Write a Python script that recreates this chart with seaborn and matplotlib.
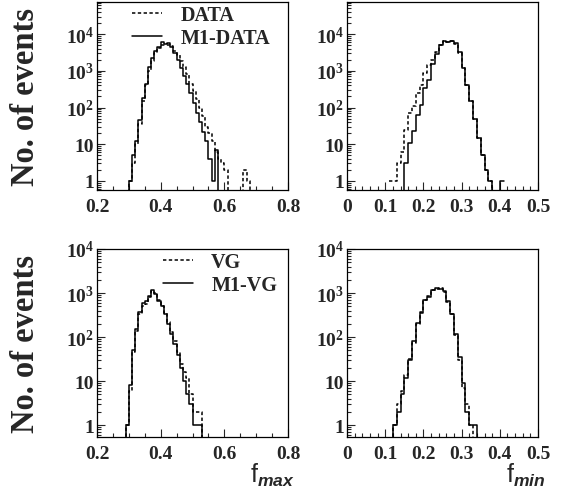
import numpy as np
import pandas as pd
import seaborn as sns
import matplotlib.pyplot as plt
from matplotlib.ticker import MultipleLocator, LogLocator, FuncFormatter, NullFormatter

# histogram bin width (same for every panel)
bin_width = 0.01

# top left: f_max, DATA vs M1-DATA (bins start at 0.29)
fmax_data_lo = 0.29
fmax_data = [0, 1, 3, 10, 35, 150, 400, 1000, 1900, 3000,
             4200, 5000, 5200, 5000, 4800, 3500, 2700, 1800, 1250, 800,
             450, 280, 170, 100, 60, 30, 20, 12, 6, 4,
             3, 2, 0, 0, 0, 0, 0, 2, 1, 0]
fmax_m1data = [0, 1, 5, 12, 45, 180, 450, 1300, 2200, 3500,
               4500, 6000, 5500, 5800, 4500, 3000, 2000, 1200, 700, 450,
               250, 130, 70, 40, 22, 12, 4, 1, 7, 0,
               0, 0, 0, 0, 0, 0, 0, 0, 0, 0]

# top right: f_min, DATA vs M1-DATA (bins start at 0.11)
fmin_data_lo = 0.11
fmin_data = [1, 1, 3, 6, 25, 70, 110, 250, 400, 850,
             1400, 2000, 3200, 5000, 6500, 6000, 6400, 5500, 3000, 1200,
             400, 150, 50, 15, 5, 2, 1, 0, 0, 0]
fmin_m1data = [0, 0, 0, 0, 3, 11, 23, 63, 120, 350,
               550, 1500, 2800, 5000, 6500, 6000, 6400, 5800, 3200, 1200,
               400, 150, 50, 15, 5, 2, 1, 0, 0, 1]

# bottom left: f_max, VG vs M1-VG (bins start at 0.28)
fmax_vg_lo = 0.28
fmax_vg = [0, 1, 6, 45, 140, 330, 500, 550, 800, 1100,
           1000, 700, 520, 350, 220, 130, 80, 45, 25, 16,
           12, 5, 2, 2, 2, 0]
fmax_m1vg = [0, 1, 8, 50, 150, 370, 600, 660, 850, 1200,
             950, 660, 500, 330, 200, 120, 70, 40, 20, 10,
             5, 3, 1, 1, 1, 0]

# bottom right: f_min, VG vs M1-VG (bins start at 0.11)
fmin_vg_lo = 0.11
fmin_vg = [0, 1, 3, 6, 14, 32, 75, 200, 380, 680,
           850, 1150, 1250, 1300, 1050, 620, 340, 110, 30, 7,
           3, 1, 0, 0]
fmin_m1vg = [0, 1, 2, 5, 12, 30, 80, 210, 350, 700,
             800, 1200, 1300, 1250, 1100, 650, 330, 120, 35, 9,
             2, 1, 1, 0]

panels = [
    # (lo, dashed, solid, labels, xlim, major, minor, ylim, xlabel)
    (fmax_data_lo, fmax_data, fmax_m1data, ("DATA", "M1-DATA"), (0.2, 0.8), 0.2, 0.05, (0.57, 7.5e4), None),
    (fmin_data_lo, fmin_data, fmin_m1data, None, (0, 0.5), 0.1, 0.02, (0.57, 7.5e4), None),
    (fmax_vg_lo, fmax_vg, fmax_m1vg, ("VG", "M1-VG"), (0.2, 0.8), 0.2, 0.05, (0.54, 1e4), "max"),
    (fmin_vg_lo, fmin_vg, fmin_m1vg, None, (0, 0.5), 0.1, 0.02, (0.54, 1e4), "min"),
]

sns.set_style("ticks")
plt.rcParams["font.family"] = ["Liberation Serif", "DejaVu Serif"]
plt.rcParams["font.weight"] = "bold"
plt.rcParams["mathtext.fontset"] = "custom"
plt.rcParams["mathtext.rm"] = "Liberation Serif:regular"
plt.rcParams["mathtext.bf"] = "Liberation Serif:bold"
plt.rcParams["mathtext.sf"] = "Liberation Sans:regular"
plt.rcParams["mathtext.it"] = "Liberation Sans:italic:bold"


def ylab(v, pos):
    e = int(round(np.log10(v)))
    if e == 0:
        return "1"
    if e == 1:
        return "10"
    return r"$\mathbf{10^{%d}}$" % e


fig, axes = plt.subplots(2, 2, figsize=(5.64, 4.89), dpi=100)
fig.subplots_adjust(left=0.172, right=0.954, top=0.994, bottom=0.1043,
                    wspace=0.309, hspace=0.314)

for ax, (lo, dashed, solid, labels, xlim, major, minor, ylim, xl) in zip(axes.flat, panels):
    n = len(dashed)
    edges = lo + bin_width * np.arange(n + 1)
    centres = edges[:-1] + bin_width / 2
    df = pd.DataFrame({"x": centres, "dashed": dashed, "solid": solid})

    sns.histplot(data=df, x="x", weights="dashed", bins=list(edges), element="step",
                 fill=False, color="black", linewidth=1.1, linestyle=(0, (2.2, 1.6)), ax=ax)
    l1 = ax.lines[-1]
    sns.histplot(data=df, x="x", weights="solid", bins=list(edges), element="step",
                 fill=False, color="black", linewidth=1.1, ax=ax)
    l2 = ax.lines[-1]

    ax.set_yscale("log")
    ax.set_xlim(*xlim)
    ax.set_ylim(*ylim)
    ax.xaxis.set_major_locator(MultipleLocator(major))
    ax.xaxis.set_minor_locator(MultipleLocator(minor))
    ax.yaxis.set_major_locator(LogLocator(base=10, numticks=20))
    ax.yaxis.set_minor_locator(LogLocator(base=10, subs=np.arange(2, 10), numticks=20))
    ax.yaxis.set_major_formatter(FuncFormatter(ylab))
    ax.yaxis.set_minor_formatter(NullFormatter())
    ax.xaxis.set_major_formatter(FuncFormatter(lambda v, p: "0" if abs(v) < 1e-9 else "%g" % v))
    ax.tick_params(which="both", direction="in", top=False, right=False, labelsize=14)
    ax.tick_params(which="major", length=6, width=0.8)
    ax.tick_params(which="minor", length=3, width=0.8)
    ax.tick_params(axis="x", pad=6)
    ax.tick_params(axis="y", pad=2)
    for s in ax.spines.values():
        s.set_linewidth(0.9)
        s.set_color("black")

    if ax in axes[:, 0]:
        ax.set_ylabel("No. of events", fontsize=23.5, fontweight="bold")
        ax.yaxis.set_label_coords(-0.295, 0.5)
    else:
        ax.set_ylabel("")

    if xl is not None:
        ax.set_xlabel(r"$\mathsf{f}_{\mathit{%s}}$" % xl, fontsize=18, loc="right")
        ax.xaxis.set_label_coords(1.037, -0.125)
    else:
        ax.set_xlabel("")

    if labels is not None:
        l1.set_label(labels[0])
        l2.set_label(labels[1])
        ax.legend(handles=[l1, l2], loc="upper left",
                  bbox_to_anchor=(0.183 if labels[0] == "DATA" else 0.345, 0.985),
                  frameon=False, fontsize=14.5, borderpad=0, borderaxespad=0,
                  labelspacing=0.15, handlelength=1.5, handletextpad=0.9)

fig.savefig("out.png", dpi=100)
plt.close(fig)
